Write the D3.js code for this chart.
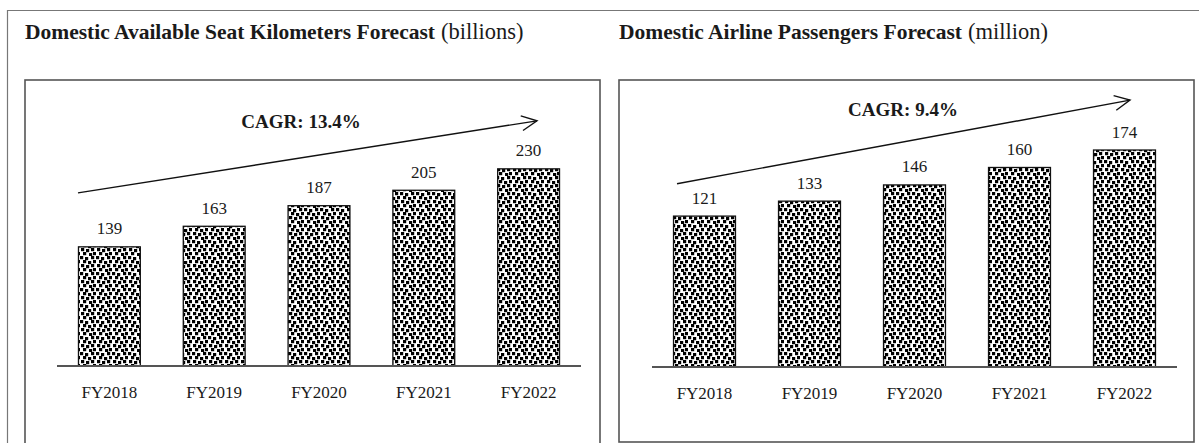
<!DOCTYPE html>
<html>
<head>
<meta charset="utf-8">
<script src="https://cdn.jsdelivr.net/npm/d3@7"></script>
<style>
  html, body { margin: 0; padding: 0; background: #fff; }
  svg { display: block; }
  text { font-family: "Liberation Serif", "Times New Roman", serif; fill: #1a1a1a; }
</style>
</head>
<body>
<svg id="chart" width="1199" height="443"></svg>
<script>
// Fiscal years shown on both panels
const categories = ["FY2018", "FY2019", "FY2020", "FY2021", "FY2022"];
// Domestic available seat kilometres (billions)
const askValues = [139, 163, 187, 205, 230];
// Domestic airline passengers (million)
const paxValues = [121, 133, 146, 160, 174];
// Panel headings: bold part and unit part
const titlesBold = ["Domestic Available Seat Kilometers Forecast", "Domestic Airline Passengers Forecast"];
const titlesUnit = ["(billions)", "(million)"];
// Growth annotations
const cagrLabels = ["CAGR: 13.4%", "CAGR: 9.4%"];
// Arrow end values (in each panel's value units)
const arrowFrom = [202, 147];
const arrowTo = [286, 214];

const svg = d3.select("#chart");

// Confetti fill used by the bars: jittered staggered squares
const defs = svg.append("defs");
const pat = defs.append("pattern")
  .attr("id", "confetti")
  .attr("patternUnits", "userSpaceOnUse")
  .attr("width", 16).attr("height", 16);
pat.append("rect").attr("width", 16).attr("height", 16).attr("fill", "#fff");
const dots = [
  [0,0],[5,1],[11,0],
  [3,4],[8,5],[13,4],
  [1,8],[6,9],[11,8],
  [3,12],[9,13],[13,12]
];
pat.selectAll("rect.d").data(dots).enter().append("rect")
  .attr("class", "d")
  .attr("x", d => d[0]).attr("y", d => d[1])
  .attr("width", 3.2).attr("height", 3.2)
  .attr("fill", "#000");

// Outer frame (top and left edges)
svg.append("path")
  .attr("d", "M7.5,443 V10.5 H1199")
  .attr("fill", "none").attr("stroke", "#777").attr("stroke-width", 1.2);

const panels = [
  { box: [25, 80, 600, 470], title: [25, 39], axisY: 366, axisX: [57, 581], domainMax: 250, rangePx: 214.3,
    values: askValues, arrowX: [78, 537], label: [301, 128] },
  { box: [619, 80, 1194, 442], title: [619, 39], axisY: 367, axisX: [652, 1177], domainMax: 200, rangePx: 249.4,
    values: paxValues, arrowX: [677, 1130], label: [903, 116] }
];

panels.forEach((p, i) => {
  const g = svg.append("g");

  // Heading: bold name followed by the regular unit
  const t = g.append("text")
    .attr("x", p.title[0]).attr("y", p.title[1]);
  t.append("tspan").attr("font-weight", "bold").attr("font-size", 21.5).text(titlesBold[i]);
  t.append("tspan").attr("font-size", 22.5).attr("dx", 6).text(titlesUnit[i]);

  // Chart frame
  g.append("rect")
    .attr("x", p.box[0]).attr("y", p.box[1])
    .attr("width", p.box[2] - p.box[0]).attr("height", p.box[3] - p.box[1])
    .attr("fill", "none").attr("stroke", "#555").attr("stroke-width", 1.6);

  const x = d3.scaleBand()
    .domain(categories)
    .range(p.axisX)
    .paddingInner(0.41).paddingOuter(0.205);

  const y = d3.scaleLinear()
    .domain([0, p.domainMax])
    .range([p.axisY, p.axisY - p.rangePx]);

  // Bars
  g.selectAll("rect.bar").data(p.values).enter().append("rect")
    .attr("class", "bar")
    .attr("x", (d, j) => x(categories[j]))
    .attr("y", d => y(d))
    .attr("width", x.bandwidth())
    .attr("height", d => y(0) - y(d))
    .attr("fill", "url(#confetti)")
    .attr("stroke", "#111").attr("stroke-width", 1.3);

  // Value labels
  g.selectAll("text.val").data(p.values).enter().append("text")
    .attr("class", "val")
    .attr("x", (d, j) => x(categories[j]) + x.bandwidth() / 2)
    .attr("y", d => y(d) - 12.5)
    .attr("text-anchor", "middle")
    .attr("font-size", 17)
    .text(d => d);

  // Category axis
  const axis = g.append("g")
    .attr("transform", `translate(0,${p.axisY})`)
    .call(d3.axisBottom(x).tickSize(0).tickPadding(20));
  axis.select(".domain").attr("stroke", "#555").attr("stroke-width", 2.2)
    .attr("d", `M${p.axisX[0]},0H${p.axisX[1]}`);
  axis.selectAll("text")
    .attr("font-family", "Liberation Serif, Times New Roman, serif")
    .attr("font-size", 17).attr("fill", "#1a1a1a");

  // Growth arrow
  const x0 = p.arrowX[0], y0 = y(arrowFrom[i]);
  const x1 = p.arrowX[1], y1 = y(arrowTo[i]);
  g.append("line")
    .attr("x1", x0).attr("y1", y0).attr("x2", x1).attr("y2", y1)
    .attr("stroke", "#111").attr("stroke-width", 1.4);
  const ang = Math.atan2(y1 - y0, x1 - x0);
  const head = 17, spread = 0.45;
  const hp = d3.path();
  hp.moveTo(x1 - head * Math.cos(ang - spread), y1 - head * Math.sin(ang - spread));
  hp.lineTo(x1, y1);
  hp.lineTo(x1 - head * Math.cos(ang + spread), y1 - head * Math.sin(ang + spread));
  g.append("path").attr("d", hp.toString())
    .attr("fill", "none").attr("stroke", "#111").attr("stroke-width", 1.4);

  // CAGR annotation
  g.append("text")
    .attr("x", p.label[0])
    .attr("y", p.label[1])
    .attr("text-anchor", "middle")
    .attr("font-size", 19).attr("font-weight", "bold")
    .text(cagrLabels[i]);
});
</script>
</body>
</html>
